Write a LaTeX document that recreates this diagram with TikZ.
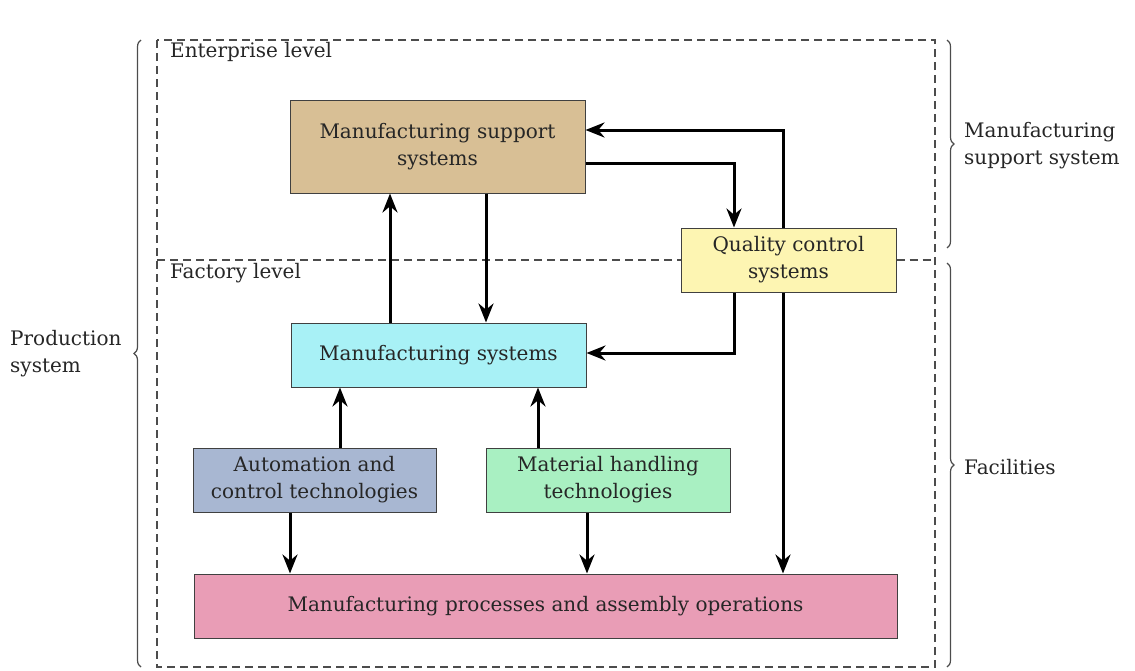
\documentclass[tikz,border=0pt]{standalone}
\usepackage{fontspec}
\setmainfont{DejaVu Serif}
\usetikzlibrary{arrows.meta,decorations.pathreplacing}
\definecolor{mssc}{HTML}{D8BF95}
\definecolor{qcc}{HTML}{FDF5B2}
\definecolor{msc}{HTML}{A8F1F6}
\definecolor{acc}{HTML}{A8B7D2}
\definecolor{mhc}{HTML}{A9F0C2}
\definecolor{mpc}{HTML}{E99DB6}
\begin{document}
\begin{tikzpicture}[x=1pt,y=-1pt,
  font=\fontsize{20}{27}\selectfont,
  box/.style={draw=black!75, line width=1pt, align=center, inner sep=0pt, text=black!85},
  arr/.style={line width=3pt, -{Stealth[length=19pt,width=15pt]}},
  dsh/.style={draw=black!70, line width=1.4pt, dash pattern=on 8pt off 5pt},
  brc/.style={draw=black!70, line width=1.2pt, decorate, decoration={brace, amplitude=7pt, aspect=0.5}},
  lbl/.style={text=black!85, align=left, inner sep=0pt}]
\useasboundingbox (0,0) rectangle (1135,670);
% dashed frames
\coordinate (tl) at (157,40);
\coordinate (br) at (935,667);
\draw[dsh] (tl) rectangle (br);
% boxes
\node[box, fill=mssc, minimum width=295pt, minimum height=93pt] (mss) at (437.5,146.5) {Manufacturing support\\systems};
\node[box, fill=qcc, minimum width=215pt, minimum height=64pt] (qc) at (788.5,260) {Quality control\\systems};
\node[box, fill=msc, minimum width=295pt, minimum height=64pt] (ms) at (438.5,355) {Manufacturing systems};
\node[box, fill=acc, minimum width=243pt, minimum height=64pt] (ac) at (314.5,480) {Automation and\\control technologies};
\node[box, fill=mhc, minimum width=244pt, minimum height=64pt] (mh) at (608,480) {Material handling\\technologies};
\node[box, fill=mpc, minimum width=703pt, minimum height=64pt] (mp) at (545.5,606) {Manufacturing processes and assembly operations};
% divider
\coordinate (dl) at (157,260);
\coordinate (dr) at (935,260);
\draw[dsh] (dl) -- (qc.west);
\draw[dsh] (qc.east) -- (dr);
% level labels
\node[lbl, anchor=west] (ent) at (170,52) {Enterprise level};
\node[lbl, anchor=west] (fac) at (170,273) {Factory level};
% arrows
\draw[arr] (ms.north -| 390,0) -- (mss.south -| 390,0);
\draw[arr] (mss.south -| 486,0) -- (ms.north -| 486,0);
\draw[arr] (mss.east |- 0,163) -| (qc.north -| 734,0);
\draw[arr] (qc.north -| 783,0) |- (mss.east |- 0,130);
\draw[arr] (qc.south -| 783,0) -- (mp.north -| 783,0);
\draw[arr] (qc.south -| 734,0) |- (ms.east |- 0,353);
\draw[arr] (ac.north -| 340,0) -- (ms.south -| 340,0);
\draw[arr] (mh.north -| 538,0) -- (ms.south -| 538,0);
\draw[arr] (ac.south -| 290,0) -- (mp.north -| 290,0);
\draw[arr] (mh.south -| 587,0) -- (mp.north -| 587,0);
% braces
\coordinate (lb1) at (141,667);
\coordinate (lb2) at (141,40);
\draw[brc] (lb1) -- (lb2);
\coordinate (rb1) at (947,40);
\coordinate (rb2) at (947,248);
\draw[brc] (rb1) -- (rb2);
\coordinate (rb3) at (947,263);
\coordinate (rb4) at (947,667);
\draw[brc] (rb3) -- (rb4);
% side labels
\node[lbl, anchor=west] (ps) at (10,354) {Production\\system};
\node[lbl, anchor=west] (msl) at (964,146) {Manufacturing\\support system};
\node[lbl, anchor=west] (fl) at (964,467) {Facilities};
\end{tikzpicture}
\end{document}
